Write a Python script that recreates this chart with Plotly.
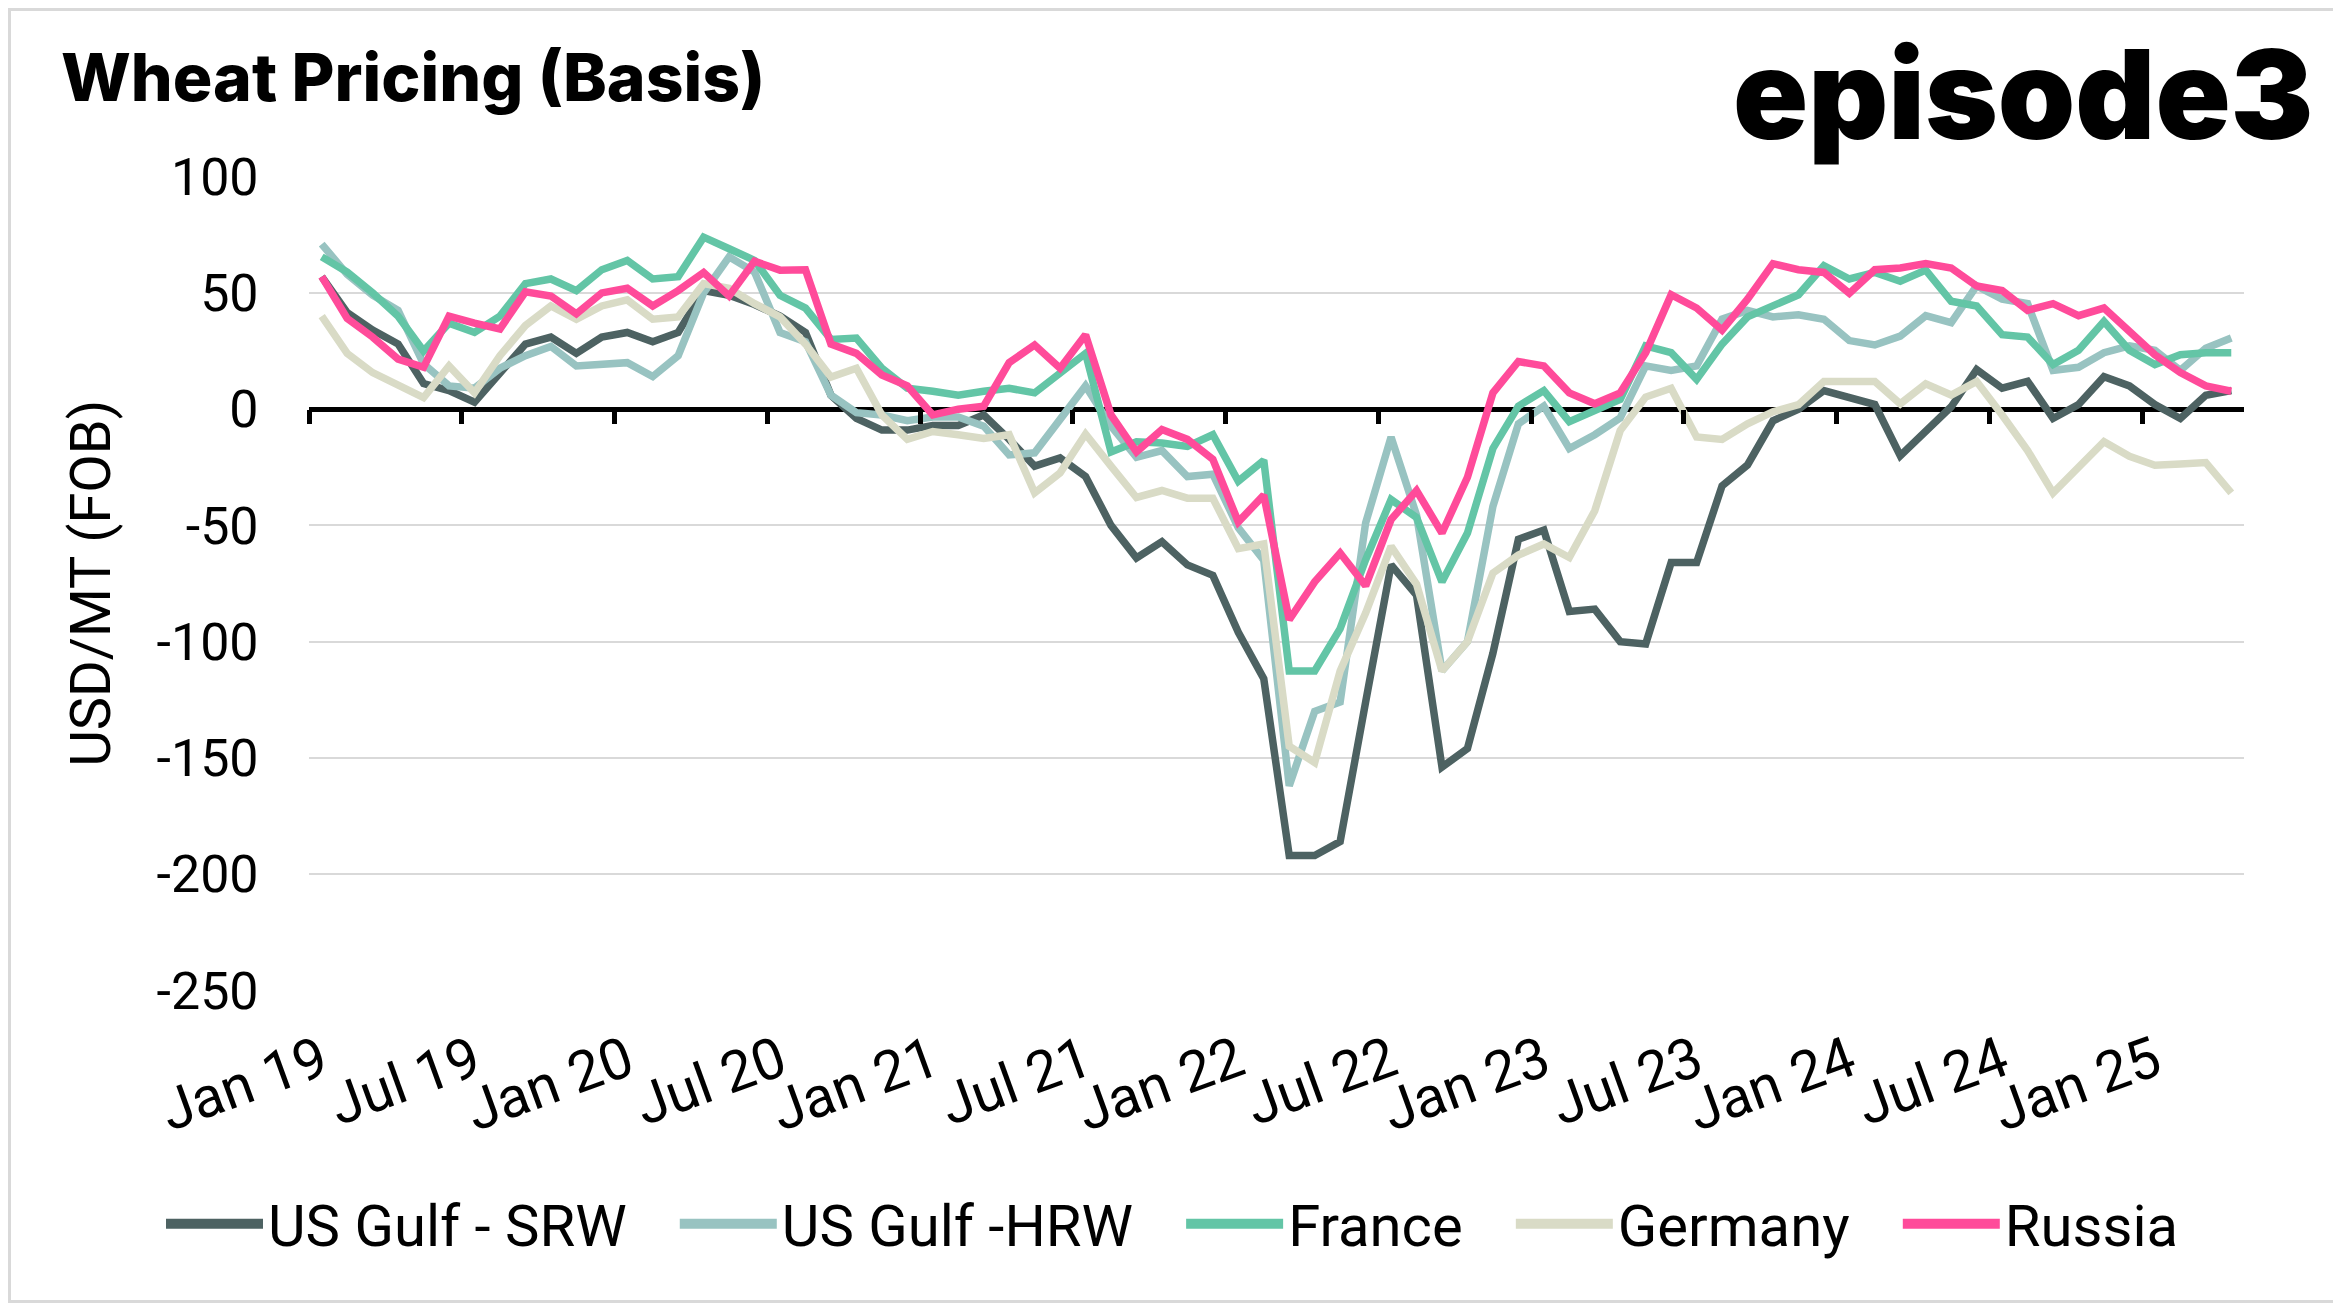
import plotly.graph_objects as go

W, H = 2341, 1303
L, R, T, B = 301, 105, 168, 320
PW, PH = W - L - R, H - T - B

months = list(range(76))  # Jan 2019 .. Apr 2025, monthly
tick_pos = [0, 6, 12, 18, 24, 30, 36, 42, 48, 54, 60, 66, 72]
tick_labels = ["Jan 19", "Jul 19", "Jan 20", "Jul 20", "Jan 21", "Jul 21", "Jan 22",
               "Jul 22", "Jan 23", "Jul 23", "Jan 24", "Jul 24", "Jan 25"]
boundary_ticks = [-0.5, 5.5, 11.5, 17.5, 23.5, 29.5, 35.5, 41.5, 47.5, 53.5, 59.5, 65.5, 71.5]

y_ticks = [100, 50, 0, -50, -100, -150, -200, -250]
y_labels = ["100", "50", "0", "-50", "-100", "-150", "-200", "-250"]

srw = [57, 41.5, 34, 28, 11, 8, 3, 15, 28, 31, 24, 31, 33, 29, 33, 51, 49, 45, 40, 33,
       6, -4, -9, -9, -7, -7, -2.5, -13, -24.5, -21, -29, -50, -64, -57, -67, -71.5, -96, -116, -192, -192,
       -186, -126, -67, -80, -154, -146, -105, -56, -52, -87, -86, -100, -101, -66, -66, -33, -24, -5, 0, 8,
       5, 2, -20, -10, 1, 17, 9, 12, -4, 2, 14, 10, 2, -4, 6, 8]
hrw = [71, 58, 49, 42.5, 19.5, 10, 9, 17.6, 23, 27, 18.6, 19.5, 20, 14, 23, 50, 65.5, 59, 33, 29,
       6, -1.5, -2.5, -5, -3.4, -3.4, -7.3, -19.7, -18.8, -4.4, 10, -7.3, -20.7, -17.8, -29, -28, -51, -65, -162, -130,
       -126, -49, -12, -45.6, -112.6, -100, -41.8, -6.3, 1.3, -16.9, -11, -3.8, 18.6, 16.7, 18.6, 38.7, 42.5, 39.7, 40.6, 38.7,
       29.5, 27.6, 31.4, 40.2, 37.2, 53, 47.3, 45.4, 16.7, 18, 24.3, 27.2, 25.3, 16.7, 26.2, 30.6]
france = [65.5, 59, 50, 40, 25, 37, 33, 40, 54, 56, 51, 60, 64, 56, 57, 74, 69, 64, 49, 43.5,
          30, 30.6, 17.6, 9, 7.7, 6, 7.7, 9, 7, 15.7, 24, -18.4, -14, -14.6, -16, -11, -31, -22, -112.6, -112.6,
          -94.4, -64.8, -38.9, -46.6, -74.3, -53.3, -16.9, 1.3, 8, -5.4, -0.6, 4.2, 27.2, 24.3, 12.8, 28, 39.7, 44.4, 49.2, 61.7,
          56, 58.8, 55, 59.8, 46.4, 44.4, 32, 31, 19.2, 25.3, 37.7, 25.3, 19.2, 23.4, 24.3, 24.3]
germany = [40, 24, 15.7, 10, 5, 18.6, 7, 23, 36, 44.4, 38.7, 44.4, 47, 38.7, 39.7, 54, 52, 45.4, 39.7, 28,
           13.8, 17.6, -2.5, -13, -9.6, -11, -12.6, -11, -36, -27.4, -10.7, -24.5, -38, -35, -38.3, -38.3, -60, -58, -145, -152,
           -112.6, -87.7, -59, -75.3, -112.6, -100, -70.5, -62.8, -58, -63.8, -43.7, -9.2, 5.2, 9, -12, -13, -6.3, -1.1, 1.9, 11.9,
           11.5, 11.9, 2.3, 10.9, 6.1, 11.9, -2.5, -17.8, -36, -25.5, -14, -20.3, -24.1, -23.6, -23, -36]
russia = [57, 39, 31, 21.5, 18, 40, 37, 34.5, 50.5, 48.7, 41, 50, 52, 44.4, 51, 58.8, 48.7, 63.6, 59.8, 60,
          28, 24, 14.7, 10, -2.5, 0, 1.3, 20, 27.6, 17.6, 32, -2.5, -18.4, -8.8, -13, -21.6, -48.5, -37, -90.6, -74.3,
          -61.9, -76, -47.5, -35, -53.3, -29.3, 7, 20.5, 18.6, 7, 2.3, 7, 24.3, 49.2, 43.5, 34, 47.3, 62.6, 60, 58.8,
          49.8, 60, 60.7, 62.6, 60.7, 53, 51, 42.5, 45.4, 40.2, 43.5, 33, 23.4, 15.7, 10, 7.7]

series = [
    ("US Gulf - SRW", srw, "#4d6262"),
    ("US Gulf -HRW", hrw, "#98c3c1"),
    ("France", france, "#63c5a6"),
    ("Germany", germany, "#d9dbc6"),
    ("Russia", russia, "#ff4b9a"),
]

FONT = "Roboto"
fig = go.Figure()
for name, vals, col in series:
    fig.add_trace(go.Scatter(x=months, y=vals, name=name, mode="lines", showlegend=False,
                             line=dict(color=col, width=7.5)))
# legend entries (thicker swatches, no data)
for k, (name, vals, col) in enumerate(series):
    pad = "" if k == len(series) - 1 else "\u00a0\u00a0\u00a0"
    fig.add_trace(go.Scatter(x=[None], y=[None], name=name + pad, mode="lines",
                             line=dict(color=col, width=12), hoverinfo="skip"))
# helper trace so the zero-crossing tick axis is rendered
fig.add_trace(go.Scatter(x=months, y=srw, xaxis="x2", mode="lines", opacity=0,
                         line=dict(width=0), showlegend=False, hoverinfo="skip"))

yr = [-250.3, 100.3]
zero_pos = (0 - yr[0]) / (yr[1] - yr[0])

fig.update_layout(
    width=W, height=H,
    margin=dict(l=L, r=R, t=T, b=B),
    paper_bgcolor="white", plot_bgcolor="white",
    showlegend=True,
    title=dict(text="Wheat Pricing (Basis)", x=53 / W, xanchor="left",
               y=1 - 70 / H, yanchor="middle", yref="container", xref="container",
               font=dict(family="Inter", size=66, color="black", weight=800)),
    xaxis=dict(range=[-0.5, 75.5], tickvals=tick_pos, ticktext=tick_labels,
               tickangle=-20, ticks="outside", ticklen=14, tickcolor="rgba(0,0,0,0)",
               showgrid=False, zeroline=False, showline=False,
               tickfont=dict(family=FONT, size=57, color="black")),
    xaxis2=dict(range=[-0.5, 75.5], overlaying="x", anchor="free", position=zero_pos,
                side="bottom", tickvals=boundary_ticks, ticks="outside", ticklen=14,
                tickwidth=5, tickcolor="black", showticklabels=False,
                showgrid=False, zeroline=False, showline=False),
    yaxis=dict(range=yr, tickvals=y_ticks, ticktext=y_labels,
               ticks="outside", ticklen=39, tickcolor="rgba(0,0,0,0)",
               showgrid=True, gridcolor="#d9d9d9", gridwidth=2.2,
               zeroline=True, zerolinecolor="black", zerolinewidth=5,
               showline=False,
               tickfont=dict(family=FONT, size=52, color="black")),
    legend=dict(orientation="h", xref="paper", yref="paper",
                x=(153 - L) / PW, xanchor="left", y=(H - B - 1216) / PH, yanchor="middle",
                font=dict(family=FONT, size=58, color="black"),
                itemwidth=97, bgcolor="rgba(0,0,0,0)"),
    annotations=[
        dict(text="USD/MT (FOB)", textangle=-90, xref="paper", yref="paper",
             x=(82 - L) / PW, y=0.5, xanchor="center", yanchor="middle",
             showarrow=False, font=dict(family=FONT, size=56, color="black")),
        dict(text="episode3", xref="paper", yref="paper",
             x=(2308 - L) / PW, y=(H - B - 86) / PH,
             xanchor="right", yanchor="middle", showarrow=False,
             font=dict(family="Inter", size=124, color="black", weight=900)),
    ],
    shapes=[
        dict(type="rect", xref="paper", yref="paper",
             x0=(1.5 - L) / PW, x1=(W - 9.5 - L) / PW,
             y0=(H - B - (H - 9.5)) / PH, y1=(H - B - 1.5) / PH,
             line=dict(color="#d9d9d9", width=3), layer="below"),
    ],
)

fig.write_html("out.html")
